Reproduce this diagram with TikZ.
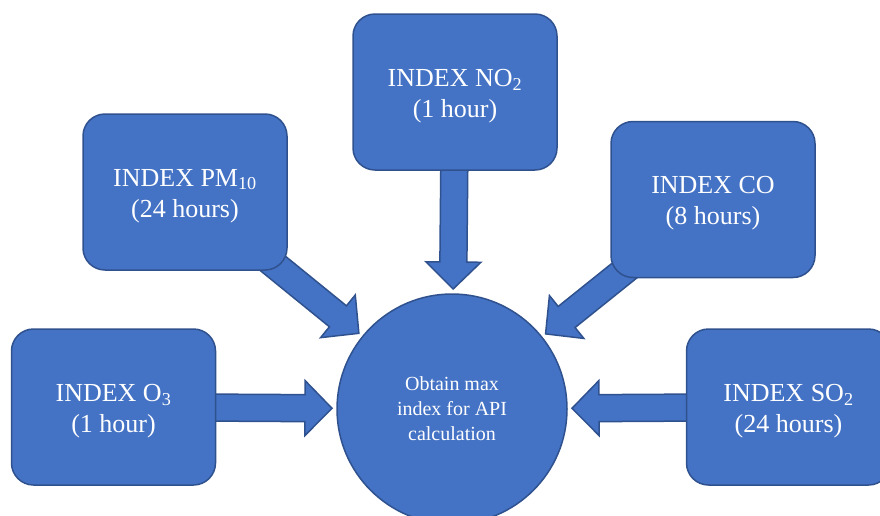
\documentclass[tikz,border=0pt]{standalone}
\usepackage{fontspec}
\setmainfont{Liberation Serif}
\usetikzlibrary{calc,backgrounds}
\definecolor{fillblue}{HTML}{4472C4}
\definecolor{edgeblue}{HTML}{2F528F}
\tikzset{
  box/.style={draw=edgeblue, fill=fillblue, line width=1.5pt, rounded corners=22pt,
    minimum width=204pt, minimum height=156pt, inner sep=0pt,
    label={[boxtext]center:#1}},
  boxtext/.style={text=white, align=center, yshift=-4pt,
    font=\fontsize{26}{31}\selectfont, inner sep=0pt},
  hub/.style={circle, draw=edgeblue, fill=fillblue, line width=1.5pt,
    minimum size=230pt, text=white, align=center,
    font=\fontsize{20}{25}\selectfont, inner sep=0pt},
  fatarrow/.style={draw=edgeblue, fill=fillblue, line width=1.5pt, line join=miter}
}
\newcommand\fatarrow[2]{%
  \coordinate (#1tip) at ($(#2)!120pt!(#1)$);
  \coordinate (#1base) at ($(#1tip)!27pt!(#1)$);
  \draw[fatarrow] ($(#1)!13.5pt!90:(#1tip)$) -- ($(#1base)!13.5pt!90:(#1tip)$)
    -- ($(#1base)!27.5pt!90:(#1tip)$) -- (#1tip)
    -- ($(#1base)!27.5pt!-90:(#1tip)$) -- ($(#1base)!13.5pt!-90:(#1tip)$)
    -- ($(#1)!13.5pt!-90:(#1tip)$) -- cycle;
}
\begin{document}
\begin{tikzpicture}[x=1pt, y=-1pt]
  \useasboundingbox (0,0) rectangle (880,515);
  \clip (0,0) rectangle (880,515);
  \node[hub] (c) at (452,409) {Obtain max\\index for API\\calculation};
  \node[box={INDEX O\textsubscript{3}\\(1 hour)}] (o3) at (113.5,407) {};
  \node[box={INDEX SO\textsubscript{2}\\(24 hours)}] (so2) at (788.5,407) {};
  \node[box={INDEX NO\textsubscript{2}\\(1 hour)}] (no2) at (455,92) {};
  \node[box={INDEX PM\textsubscript{10}\\(24 hours)}] (pm) at (185,192) {};
  \node[box={INDEX CO\\(8 hours)}] (co) at (713,199.5) {};
  \begin{pgfonlayer}{background}
    \fatarrow{o3}{c}
    \fatarrow{so2}{c}
    \fatarrow{no2}{c}
    \fatarrow{pm}{c}
    \fatarrow{co}{c}
  \end{pgfonlayer}
\end{tikzpicture}
\end{document}
